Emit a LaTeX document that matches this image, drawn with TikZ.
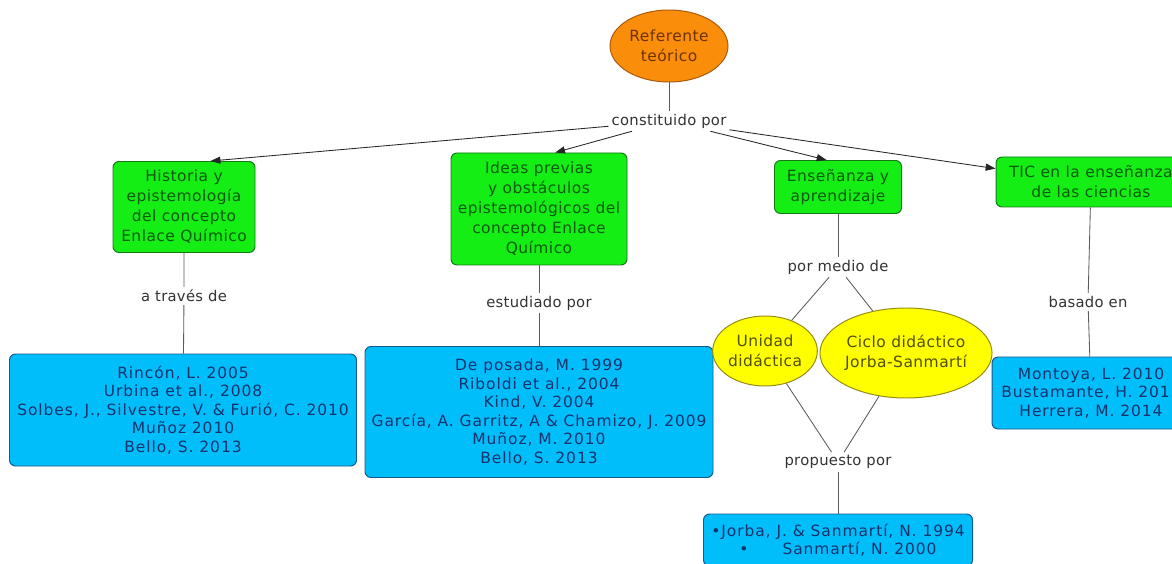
\documentclass[tikz,border=0pt]{standalone}
\usepackage{fontspec}
\setmainfont{DejaVu Sans}
\usetikzlibrary{arrows.meta,shapes.geometric}

\definecolor{orangefill}{RGB}{250,142,10}
\definecolor{orangeline}{RGB}{170,90,10}
\definecolor{orangetext}{RGB}{110,50,0}
\definecolor{greenfill}{RGB}{20,238,20}
\definecolor{greenline}{RGB}{20,120,20}
\definecolor{greentext}{RGB}{10,90,10}
\definecolor{bluefill}{RGB}{0,190,250}
\definecolor{blueline}{RGB}{20,90,140}
\definecolor{bluetext}{RGB}{20,50,110}
\definecolor{yellowfill}{RGB}{255,255,0}
\definecolor{yellowline}{RGB}{150,140,20}
\definecolor{yellowtext}{RGB}{80,80,0}
\definecolor{linkgray}{RGB}{90,90,90}

\begin{document}
\begin{tikzpicture}[x=0.025cm, y=-0.025cm,
                    every node/.style = {align=center},
                    concept/.style = {rectangle, rounded corners=0.15cm, line width=0.7pt, inner sep=1pt},
                    topic concept/.style = {concept, fill=greenfill, draw=greenline, text=greentext,
                                            font=\fontsize{11}{14.2}\selectfont\addfontfeature{LetterSpace=3}},
                    source concept/.style = {concept, fill=bluefill, draw=blueline, text=bluetext,
                                             font=\fontsize{11}{13.2}\selectfont\addfontfeature{LetterSpace=6}},
                    root concept/.style = {ellipse, fill=orangefill, draw=orangeline, line width=0.7pt, text=orangetext, inner sep=0pt,
                                           font=\fontsize{11}{14.2}\selectfont\addfontfeature{LetterSpace=3}},
                    tool concept/.style = {ellipse, fill=yellowfill, draw=yellowline, line width=0.7pt, text=yellowtext, inner sep=0pt,
                                           font=\fontsize{11}{14.2}\selectfont\addfontfeature{LetterSpace=3}},
                    link/.style = {text=black!80, fill=white, inner sep=2pt,
                                   font=\fontsize{10.5}{13}\selectfont\addfontfeature{LetterSpace=2}},
                    link line/.style = {draw=linkgray, line width=0.6pt},
                    link arrow/.style = {draw=black!85, line width=0.6pt, -{Triangle[length=7pt,width=5pt]}}]
    \useasboundingbox (0,0) rectangle (1172,564);
    \clip (0,0) rectangle (1172,564);
    \fill[white] (0,0) rectangle (1172,564);
    % root
    \node at (669,46) [root concept, minimum width=118*0.025cm, minimum height=72*0.025cm] (root) {Referente\\teórico};
    \node at (669,121) [link] (constit) {constituido por};
    \draw[link line] (root) -- (constit);
    % main topics
    \node at (184,207) [topic concept, minimum width=142*0.025cm, minimum height=91*0.025cm] (hist) {Historia y\\epistemología\\del concepto\\Enlace Químico};
    \node at (539,209) [topic concept, minimum width=176*0.025cm, minimum height=112*0.025cm] (ideas) {Ideas previas\\y obstáculos\\epistemológicos del\\concepto Enlace\\Químico};
    \node at (838,187) [topic concept, minimum width=127*0.025cm, minimum height=53*0.025cm] (ens) {Enseñanza y\\aprendizaje};
    \node at (1091,182) [topic concept, minimum width=190*0.025cm, minimum height=50*0.025cm] (tic) {TIC en la enseñanza\\de las ciencias};
    \draw[link arrow] (constit) -- (hist.60);
    \draw[link arrow] (constit) -- (ideas.74);
    \draw[link arrow] (constit) -- (ens.113);
    \draw[link arrow] (constit) -- (tic.172);
    % history branch
    \node at (184,296) [link] (through) {a través de};
    \node at (183,410) [source concept, minimum width=347*0.025cm, minimum height=112*0.025cm] (histsrc) {Rincón, L. 2005\\Urbina et al., 2008\\Solbes, J., Silvestre, V. \& Furió, C. 2010\\Muñoz 2010\\Bello, S. 2013};
    \draw[link line] (hist) -- (through) -- (histsrc);
    % ideas branch
    \node at (539,303) [link] (studied) {estudiado por};
    \node at (539,412) [source concept, minimum width=348*0.025cm, minimum height=131*0.025cm] (ideassrc) {De posada, M. 1999\\Riboldi et al., 2004\\Kind, V. 2004\\García, A. Garritz, A \& Chamizo, J. 2009\\Muñoz, M. 2010\\Bello, S. 2013};
    \draw[link line] (ideas) -- (studied) -- (ideassrc);
    % teaching branch
    \node at (838,267) [link] (means) {por medio de};
    \node at (765,351) [tool concept, minimum width=93*0.025cm, minimum height=70*0.025cm] (unit) {Unidad\\didáctica};
    \node at (906,353) [tool concept, minimum width=160*0.025cm, minimum height=90*0.025cm] (cycle) {Ciclo didáctico\\Jorba-Sanmartí};
    \node at (838,462) [link] (proposed) {propuesto por};
    \node at (838,540) [source concept, minimum width=269*0.025cm, minimum height=52*0.025cm] (cyclesrc) {•Jorba, J. \& Sanmartí, N. 1994\\•\hspace{2.2em}Sanmartí, N. 2000};
    \draw[link line] (ens) -- (means);
    \draw[link line] (means) -- (unit);
    \draw[link line] (means) -- (cycle);
    \draw[link line] (unit) -- (proposed);
    \draw[link line] (cycle) -- (proposed);
    \draw[link line] (proposed) -- (cyclesrc);
    % ICT branch
    \node at (1088,302) [link] (based) {basado en};
    \node at (1091,393) [source concept, minimum width=198*0.025cm, minimum height=72*0.025cm] (ticsrc) {Montoya, L. 2010\\Bustamante, H. 2013\\Herrera, M. 2014};
    \draw[link line] (tic) -- (based) -- (ticsrc);
\end{tikzpicture}
\end{document}
